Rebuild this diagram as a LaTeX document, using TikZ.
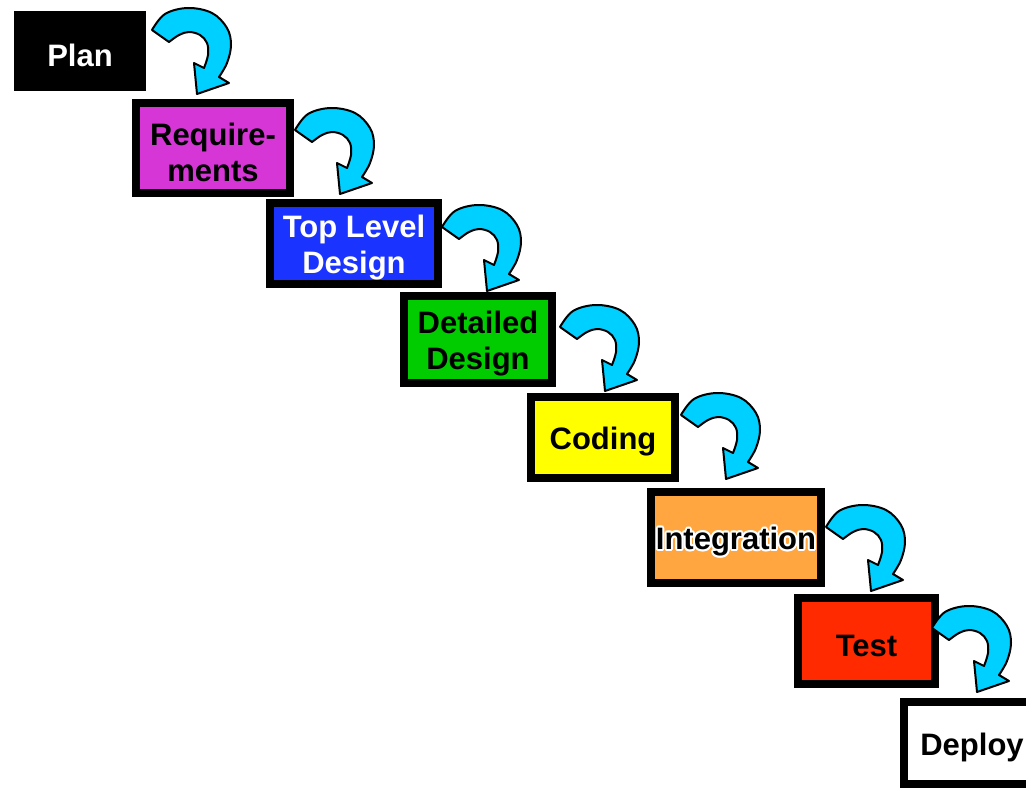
\documentclass[tikz,border=0pt]{standalone}
\usepackage{fontspec}
\setmainfont{Liberation Sans}
\usetikzlibrary{calc}
\definecolor{reqc}{RGB}{214,54,214}
\definecolor{tldc}{RGB}{26,51,255}
\definecolor{ddc}{RGB}{0,204,0}
\definecolor{codc}{RGB}{255,255,0}
\definecolor{intc}{RGB}{255,166,64}
\definecolor{testc}{RGB}{255,42,0}
\definecolor{arrc}{RGB}{0,208,255}
\newcommand\lowstrut{\rule{0pt}{31pt}}
\tikzset{
  steptext/.style={inner sep=0pt, align=center, font=\fontsize{31}{36}\selectfont\bfseries},
  stepbox/.style={steptext, draw=black, line width=8pt},
  loopar/.style={fill=arrc, draw=black, line width=2pt, line join=round},
  looparrow/.pic={
    \filldraw[loopar] plot[smooth, tension=0.6] coordinates {(0,0) (13,-16) (36,-22) (60,-17) (75,-2) (79,15) (75,33) (67,47)}
      -- (77,53) -- (45,64) -- (42,33)
      -- plot[smooth, tension=0.6] coordinates {(52,38) (56,25) (55,13) (48,5) (37,2) (27,5) (17,12)} -- cycle;
  }
}
\begin{document}
\begin{tikzpicture}[x=1pt, y=-1pt]
\path[use as bounding box, clip] (0,0) rectangle (1026,789);
\fill[white] (0,0) rectangle (1026,789);

\node[stepbox, fill=black, text=white, minimum width=124pt, minimum height=72pt] (plan) at (80,51) {\lowstrut Plan};
\node[stepbox, fill=reqc, minimum width=154pt, minimum height=90pt] (req) at (213,148) {\lowstrut Require-\\ments};
\node[stepbox, fill=tldc, text=white, minimum width=168pt, minimum height=81pt] (tld) at (354,243.5) {\lowstrut Top Level\\Design};
\node[stepbox, fill=ddc, minimum width=148pt, minimum height=87pt] (dd) at (478,339.5) {\lowstrut Detailed\\Design};
\node[stepbox, fill=codc, minimum width=144pt, minimum height=81pt] (cod) at (603,437.5) {\lowstrut Coding};
\node[stepbox, fill=intc, minimum width=170pt, minimum height=91pt] (integ) at (736,537.5) {};
\foreach \a in {0,30,...,330}
  \node[steptext, text=white] (integglow\a) at ($(integ)+(\a:2)$) {\lowstrut Integration};
\node[steptext] (integtext) at (integ) {\lowstrut Integration};
\node[stepbox, fill=testc, minimum width=137pt, minimum height=86pt] (test) at (866.5,641) {\lowstrut Test};
\node[stepbox, fill=white, minimum width=136pt, minimum height=82pt] (deploy) at (972,743) {\lowstrut Deploy};

\pic at ($(plan.north east)+(6,19)$) {looparrow};
\pic at ($(req.north east)+(1,31)$) {looparrow};
\pic at ($(tld.north east)+(0,28)$) {looparrow};
\pic at ($(dd.north east)+(4,35)$) {looparrow};
\pic at ($(cod.north east)+(2,22)$) {looparrow};
\pic at ($(integ.north east)+(1,39)$) {looparrow};
\pic at ($(test.north east)+(-7,34)$) {looparrow};
\end{tikzpicture}
\end{document}
